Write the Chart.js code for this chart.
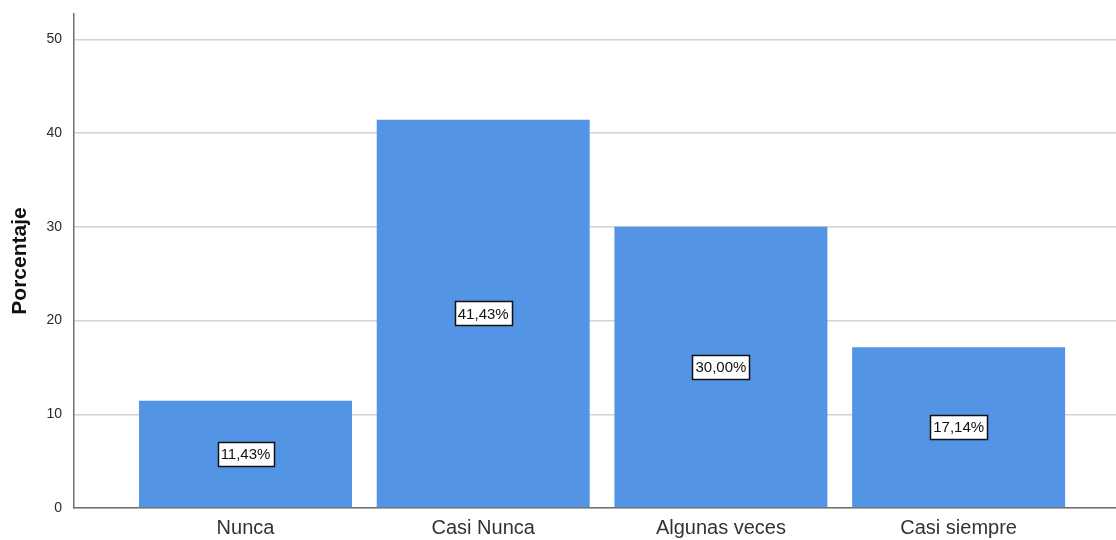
<!DOCTYPE html>
<html>
<head>
<meta charset="utf-8">
<script src="https://cdn.jsdelivr.net/npm/chart.js@4"></script>
<style>
  html, body { margin: 0; padding: 0; background: #ffffff; }
  #wrap { width: 1116px; height: 540px; position: relative; }
</style>
</head>
<body>
<div id="wrap"><canvas id="c" width="1116" height="540"></canvas></div>
<script>
const categories = ['Nunca', 'Casi Nunca', 'Algunas veces', 'Casi siempre'];
const percentages = [11.43, 41.43, 30.00, 17.14];
const valueLabels = ['11,43%', '41,43%', '30,00%', '17,14%'];
const yTicks = [0, 10, 20, 30, 40, 50];

const FONT = "'Liberation Sans', Arial, sans-serif";

const boxLabels = {
  id: 'boxLabels',
  afterDatasetsDraw(chart) {
    const ctx = chart.ctx;
    const meta = chart.getDatasetMeta(0);
    ctx.save();
    ctx.font = '15px ' + FONT;
    ctx.textAlign = 'center';
    ctx.textBaseline = 'middle';
    meta.data.forEach((bar, i) => {
      const cx = bar.x;
      const cy = (bar.y + bar.base) / 2;
      const text = valueLabels[i];
      const w = Math.round(ctx.measureText(text).width + 6);
      const h = 24;
      const x0 = Math.round(cx - w / 2);
      const y0 = Math.round(cy - h / 2);
      ctx.fillStyle = '#ffffff';
      ctx.fillRect(x0, y0, w, h);
      ctx.strokeStyle = '#111111';
      ctx.lineWidth = 1.5;
      ctx.strokeRect(x0 + 0.5, y0 + 0.5, w, h);
      ctx.fillStyle = '#111111';
      ctx.fillText(text, cx, cy + 1);
    });
    ctx.restore();
  }
};

new Chart(document.getElementById('c'), {
  type: 'bar',
  data: {
    datasets: [{
      data: percentages.map((v, i) => ({ x: i, y: v })),
      backgroundColor: '#5494e4',
      borderWidth: 0,
      barPercentage: 0.896,
      categoryPercentage: 1.0
    }]
  },
  options: {
    responsive: false,
    animation: false,
    layout: { padding: { top: 14, right: 0, left: 0, bottom: 0 } },
    plugins: { legend: { display: false }, tooltip: { enabled: false } },
    scales: {
      x: {
        type: 'linear',
        offset: false,
        min: -0.7215,
        max: 3.662,
        afterBuildTicks: (s) => { s.ticks = categories.map((c, i) => ({ value: i })); },
        afterFit: (s) => { s.height = 32; s.paddingLeft = 0; s.paddingRight = 0; },
        ticks: {
          includeBounds: false,
          autoSkip: false,
          maxRotation: 0,
          padding: 8,
          color: '#333333',
          font: { family: FONT, size: 20 },
          callback: (v) => categories[v] ?? ''
        },
        grid: { display: true, color: 'rgba(0,0,0,0)', drawTicks: false, offset: false },
        border: { display: true, color: '#707070', width: 1.5 }
      },
      y: {
        min: 0,
        max: 52.7,
        afterBuildTicks: (s) => { s.ticks = yTicks.map(v => ({ value: v })); },
        afterFit: (s) => { s.width = 74; s.paddingTop = 0; s.paddingBottom = 0; },
        ticks: {
          includeBounds: false,
          padding: 12,
          color: '#2a2a2a',
          font: { family: FONT, size: 14 }
        },
        grid: { color: '#d2d2d2', lineWidth: 1.5, drawTicks: false },
        border: { display: true, color: '#707070', width: 1.5 },
        title: {
          display: true,
          text: 'Porcentaje',
          color: '#111111',
          font: { family: FONT, size: 21, weight: 'bold' },
          padding: { top: 8, bottom: 0 }
        }
      }
    }
  },
  plugins: [boxLabels]
});
</script>
</body>
</html>
